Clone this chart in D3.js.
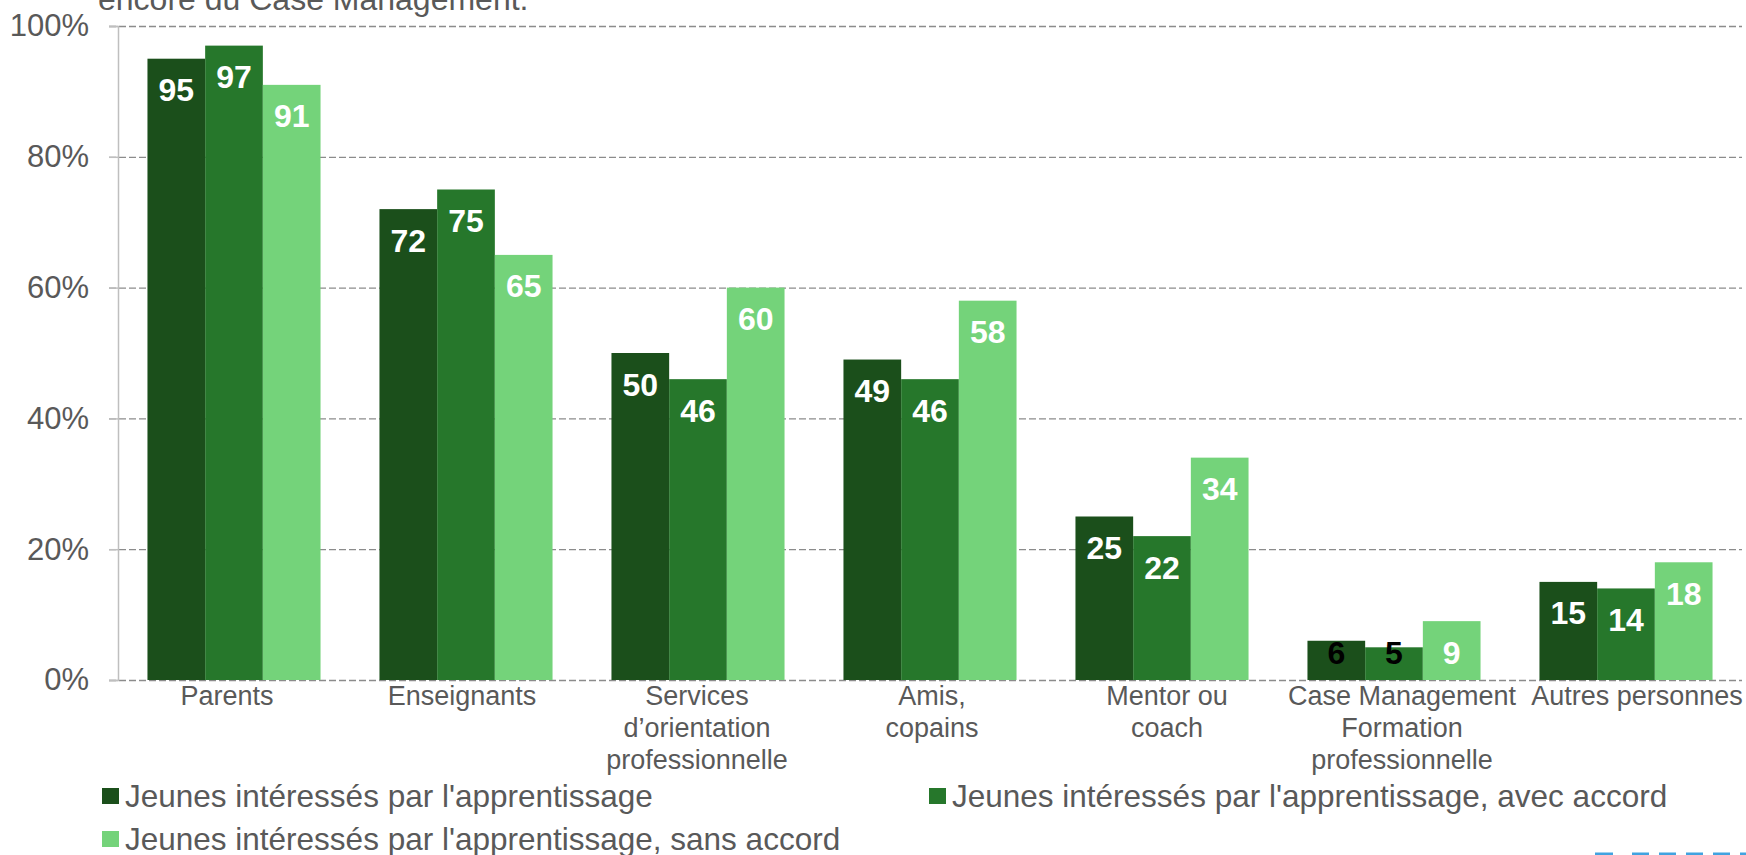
<!DOCTYPE html>
<html>
<head>
<meta charset="utf-8">
<script src="https://cdn.jsdelivr.net/npm/d3@7"></script>
<style>
    body { margin: 0; background: #fff; }
    svg { display: block; font-family: "Liberation Sans", Arial, sans-serif; }
</style>
</head>
<body>
<div id="chart"></div>
<script>
// categories (line breaks as in the original labels)
var categories = [
    "Parents",
    "Enseignants",
    "Services\nd\u2019orientation\nprofessionnelle",
    "Amis,\ncopains",
    "Mentor ou\ncoach",
    "Case Management\nFormation\nprofessionnelle",
    "Autres personnes"
];
var seriesNames = [
    "Jeunes intéressés par l'apprentissage",
    "Jeunes intéressés par l'apprentissage, avec accord",
    "Jeunes intéressés par l'apprentissage, sans accord"
];
var valuesAll = [95, 72, 50, 49, 25, 6, 15];
var valuesAvec = [97, 75, 46, 46, 22, 5, 14];
var valuesSans = [91, 65, 60, 58, 34, 9, 18];
var yTicks = [0, 20, 40, 60, 80, 100];
var colors = ["#1b4f1b", "#26772b", "#74d37a"];

var W = 1746, H = 855;
var plot = {left: 118, right: 1742, top: 26, bottom: 680};

var svg = d3.select("#chart").append("svg")
    .attr("width", W)
    .attr("height", H);

var seriesValues = [valuesAll, valuesAvec, valuesSans];
var rows = categories.map(function(c, i) {
    return {cat: c, vals: seriesValues.map(function(s, k) { return {k: k, v: s[i], cat: c}; })};
});

var x0 = d3.scaleBand().domain(categories).range([plot.left, plot.right])
    .paddingInner(0.254).paddingOuter(0.127);
var x1 = d3.scaleBand().domain([0, 1, 2]).range([0, x0.bandwidth()]);
var y = d3.scaleLinear().domain([0, 100]).range([plot.bottom, plot.top]);
// category labels sit on a slightly wider spread than the bars
var xLab = d3.scalePoint().domain(categories).range([227, 1637]);

// title line (only the last line is visible)
svg.append("text")
    .attr("x", 98)
    .attr("y", 10)
    .attr("fill", "#595959")
    .style("font-size", "32px")
    .text("encore du Case Management.");

// gridlines
svg.append("g")
    .attr("transform", "translate(109,0)")
    .call(d3.axisRight(y).tickValues(yTicks).tickSize(plot.right - 109).tickFormat(""))
    .call(function(g) {
        g.select(".domain").remove();
        g.selectAll("line")
            .attr("stroke", "#8c8c8c")
            .attr("stroke-width", 1.3)
            .attr("stroke-dasharray", "7,3");
    });

// y axis
svg.append("g")
    .attr("transform", "translate(" + plot.left + ",0)")
    .call(d3.axisLeft(y).tickValues(yTicks).tickSize(9).tickPadding(20)
        .tickFormat(function(d) { return d + "%"; }))
    .call(function(g) {
        g.select(".domain").attr("stroke", "#bfbfbf").attr("stroke-width", 1.5);
        g.selectAll("line").attr("stroke", "#bfbfbf").attr("stroke-width", 1.5);
        g.selectAll("text")
            .attr("fill", "#595959")
            .style("font-size", "31px")
            .attr("font-family", null);
    });

// bars
var group = svg.selectAll(".grp")
    .data(rows)
    .enter().append("g")
    .attr("class", "grp")
    .attr("transform", function(d) { return "translate(" + x0(d.cat) + ",0)"; });

group.selectAll("rect")
    .data(function(d) { return d.vals; })
    .enter().append("rect")
    .attr("x", function(d) { return x1(d.k); })
    .attr("width", x1.bandwidth())
    .attr("y", function(d) { return y(d.v); })
    .attr("height", function(d) { return y(0) - y(d.v); })
    .attr("fill", function(d) { return colors[d.k]; });

// value labels: inside the top; short bars get the label pushed down, in black
function fits(d) { return y(0) - y(d.v) >= 50; }
group.selectAll(".lbl")
    .data(function(d) { return d.vals; })
    .enter().append("text")
    .attr("class", "lbl")
    .attr("x", function(d) { return x1(d.k) + x1.bandwidth() / 2; })
    .attr("y", function(d) { return Math.min(y(d.v) + 31, y(0) - 28); })
    .attr("dy", ".36em")
    .attr("text-anchor", "middle")
    .attr("fill", function(d) { return fits(d) ? "#fff" : "#000"; })
    .style("font-size", "32px")
    .style("font-weight", "bold")
    .text(function(d) { return d.v; });

// category labels
var catLab = svg.selectAll(".cat")
    .data(categories)
    .enter().append("text")
    .attr("class", "cat")
    .attr("x", function(d) { return xLab(d); })
    .attr("y", 705)
    .attr("text-anchor", "middle")
    .attr("fill", "#595959")
    .style("font-size", "27px");

catLab.selectAll("tspan")
    .data(function(d) { return d.split("\n"); })
    .enter().append("tspan")
    .attr("x", function() { return d3.select(this.parentNode).attr("x"); })
    .attr("dy", function(d, i) { return i === 0 ? 0 : 32; })
    .text(function(d) { return d; });

// legend
var legendPos = [[102, 788], [929, 788], [102, 831]];
var legend = svg.selectAll(".leg")
    .data(seriesNames)
    .enter().append("g")
    .attr("class", "leg")
    .attr("transform", function(d, i) { return "translate(" + legendPos[i][0] + "," + legendPos[i][1] + ")"; });

legend.append("rect")
    .attr("width", 17)
    .attr("height", 16)
    .attr("fill", function(d, i) { return colors[i]; });

legend.append("text")
    .attr("x", 23)
    .attr("y", 19)
    .attr("fill", "#595959")
    .style("font-size", "31.5px")
    .text(function(d) { return d; });

// cut-off blue mark at bottom right
svg.append("line")
    .attr("x1", 1595).attr("x2", 1613)
    .attr("y1", 854).attr("y2", 854)
    .attr("stroke", "#41a3e0").attr("stroke-width", 3);
svg.append("line")
    .attr("x1", 1632).attr("x2", 1746)
    .attr("y1", 854).attr("y2", 854)
    .attr("stroke", "#41a3e0").attr("stroke-width", 3)
    .attr("stroke-dasharray", "17,10");
</script>
</body>
</html>
